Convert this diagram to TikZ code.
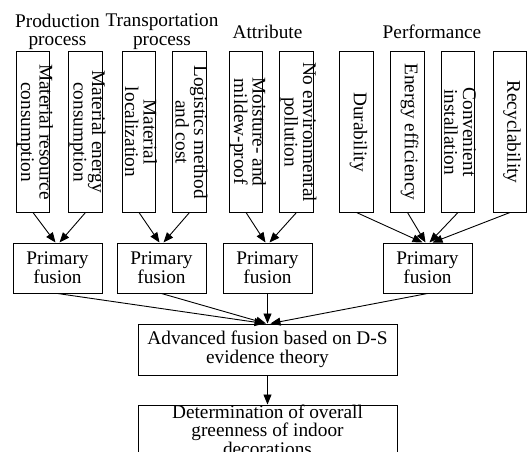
\documentclass[tikz,border=0pt]{standalone}
\usepackage{fontspec}
\setmainfont{Liberation Serif}
\usetikzlibrary{arrows.meta,calc}
\begin{document}
\begin{tikzpicture}[x=1pt,y=-1pt,
  every node/.style={font=\fontsize{19.3}{18.6}\selectfont, inner sep=0pt},
  vbox/.style={draw, line width=1pt, minimum width=33.5pt, minimum height=160pt},
  vtext/.style={rotate=-90, align=center},
  pbox/.style={draw, line width=1pt, minimum width=89pt, minimum height=50pt, align=center},
  bigbox/.style={draw, line width=1pt, minimum width=259pt, minimum height=51pt},
  arr/.style={line width=0.9pt, -{Triangle[length=10pt,width=8pt]}}
]
\useasboundingbox (0,0) rectangle (528,452);

% headings
\node[align=center] (h1) at (57.5,31.8) {Production\\process};
\node[align=center] (h2) at (162,31.8) {Transportation\\process};
\node[anchor=base] (h3) at (267.5,38.3) {Attribute};
\node[anchor=base] (h4) at (432,38.3) {Performance};

% top boxes
\node[vbox] (b1) at (33,132) {};
\node[vbox] (b2) at (85.5,132) {};
\node[vbox] (b3) at (139,132) {};
\node[vbox] (b4) at (189.5,132) {};
\node[vbox] (b5) at (246,132) {};
\node[vbox] (b6) at (296.5,132) {};
\node[vbox] (b7) at (356.5,132) {};
\node[vbox] (b8) at (407.5,132) {};
\node[vbox] (b9) at (458,132) {};
\node[vbox] (b10) at (510,132) {};

\node[vtext] (t1) at (35,132) {Material resource\\consumption};
\node[vtext] (t2) at (87.5,132) {Material energy\\consumption};
\node[vtext] (t3) at (141,132) {Material\\localization};
\node[vtext] (t4) at (191.5,132) {Logistics method\\and cost};
\node[vtext] (t5) at (248,132) {Moisture- and\\mildew-proof};
\node[vtext] (t6) at (298.5,132) {No environmental\\pollution};
\node[vtext] (t7) at (358.5,132) {Durability};
\node[vtext] (t8) at (409.5,132) {Energy efficiency};
\node[vtext] (t9) at (460,132) {Convenient\\installation};
\node[vtext] (t10) at (512,132) {Recyclability};

% primary fusion
\node[pbox] (pA) at (57.5,268) {Primary\\fusion};
\node[pbox] (pB) at (161.5,268) {Primary\\fusion};
\node[pbox] (pC) at (267.5,268) {Primary\\fusion};
\node[pbox] (pD) at (427.5,268) {Primary\\fusion};

% advanced
\node[bigbox, align=center] (adv) at (267.5,349.5) {Advanced fusion based on D-S\\evidence theory};

% determination (box runs past the lower edge, as in the reference)
\node[bigbox] (det) at (267.5,430.5) {};
\node[align=center] (dett) at (267.5,430) {Determination of overall\\greenness of indoor\\decorations};

% arrows top -> primary
\draw[arr] (b1.south) -- ($(pA.north)+(-2,0)$);
\draw[arr] (b2.south) -- ($(pA.north)+(2,0)$);
\draw[arr] (b3.south) -- ($(pB.north)+(-2,0)$);
\draw[arr] (b4.south) -- ($(pB.north)+(2,0)$);
\draw[arr] (b5.south) -- ($(pC.north)+(-2,0)$);
\draw[arr] (b6.south) -- ($(pC.north)+(2,0)$);
\draw[arr] (b7.south) -- ($(pD.north)+(-5,0)$);
\draw[arr] (b8.south) -- ($(pD.north)+(-2,0)$);
\draw[arr] (b9.south) -- ($(pD.north)+(2,0)$);
\draw[arr] (b10.south) -- ($(pD.north)+(5,0)$);

% primary -> advanced
\draw[arr] (pA.south) -- ($(adv.north)+(-3,0)$);
\draw[arr] (pB.south) -- ($(adv.north)+(-1.5,0)$);
\draw[arr] (pC.south) -- (adv.north);
\draw[arr] (pD.south) -- ($(adv.north)+(3,0)$);

% advanced -> determination
\draw[arr] (adv.south) -- (det.north);
\end{tikzpicture}
\end{document}
